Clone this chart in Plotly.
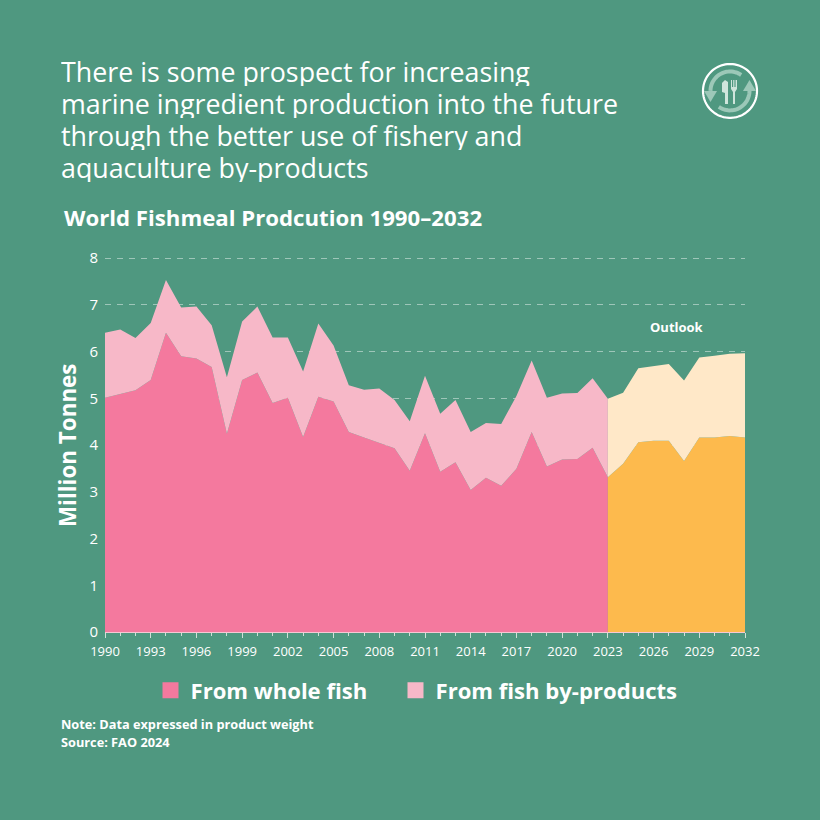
import math
import plotly.graph_objects as go

BG = "#4F9880"
PINK = "#F4799E"
PINK_LIGHT = "#F7B8C8"
ORANGE = "#FDBA4D"
CREAM = "#FFE8C8"
FONT = "Open Sans"

years_hist = list(range(1990, 2024))
whole_hist = [5.01, 5.09, 5.17, 5.39, 6.40, 5.90, 5.85, 5.67, 4.24, 5.39, 5.55, 4.90, 5.01, 4.17, 5.03, 4.93, 4.28,
              4.16, 4.04, 3.93, 3.45, 4.25, 3.43, 3.63, 3.04, 3.30, 3.13, 3.49, 4.28, 3.54, 3.69, 3.70, 3.94, 3.31]
byprod_hist = [1.39, 1.38, 1.12, 1.22, 1.13, 1.04, 1.11, 0.89, 1.21, 1.25, 1.41, 1.40, 1.29, 1.40, 1.57, 1.20, 1.00,
               1.02, 1.17, 1.03, 1.06, 1.23, 1.24, 1.33, 1.24, 1.17, 1.32, 1.56, 1.53, 1.47, 1.41, 1.41, 1.49, 1.68]
years_outlook = list(range(2023, 2033))
whole_outlook = [3.31, 3.60, 4.06, 4.09, 4.09, 3.66, 4.16, 4.16, 4.19, 4.16]
byprod_outlook = [1.68, 1.52, 1.58, 1.59, 1.64, 1.72, 1.71, 1.75, 1.76, 1.80]
tick_years = list(range(1990, 2033, 3))

L, R, T, B = 105, 745, 255.5, 632.5
def px(x): return (x - L) / (R - L)
def py(y): return (B - y) / (B - T)

fig = go.Figure()
def area(x, y, color, group, name=None):
    fig.add_trace(go.Scatter(x=x, y=y, mode="lines", stackgroup=group, line=dict(width=0, color=color),
                             fillcolor=color, name=name or "", showlegend=False, hoverinfo="x+y"))

area(years_hist, whole_hist, PINK, "hist", "From whole fish")
area(years_hist, byprod_hist, PINK_LIGHT, "hist", "From fish by-products")
area(years_outlook, whole_outlook, ORANGE, "outlook", "From whole fish (outlook)")
area(years_outlook, byprod_outlook, CREAM, "outlook", "From fish by-products (outlook)")

for nm, c, lg in (("From whole fish", PINK, "legend"), ("From fish by-products", PINK_LIGHT, "legend2")):
    fig.add_trace(go.Scatter(x=[None], y=[None], mode="markers", name=nm, legend=lg,
                             marker=dict(symbol="square", size=17, color=c)))

anns = []
def text(x, y, s, size, bold=False, anchor="left", color="white", **kw):
    anns.append(dict(xref="paper", yref="paper", x=px(x), y=py(y), text=f"<b>{s}</b>" if bold else s,
                     showarrow=False, xanchor=anchor, yanchor="middle",
                     font=dict(family=FONT, size=size, color=color), **kw))

for i, line in enumerate(["There is some prospect for increasing", "marine ingredient production into the future",
                          "through the better use of fishery and", "aquaculture by-products"]):
    text(59, 70 + i * 32.2, line, 26.8, height=30)
text(62, 217, "World Fishmeal Prodcution 1990–2032", 22.2, True)
text(59, 724.5, "Note: Data expressed in product weight", 12.75, True)
text(59, 743, "Source: FAO 2024", 12.75, True)
text(677, 327, "Outlook", 13, True, "center")
anns.append(dict(xref="paper", yref="paper", x=px(68), y=py(446), text="<b>Million Tonnes</b>", textangle=-90,
                 showarrow=False, xanchor="center", yanchor="middle",
                 font=dict(family=FONT, size=22.4, color="white")))

# Icon
shapes = []
CX, CY, RAD = 730, 90, 27
def pth(points, close=False):
    return "M " + " L ".join(f"{px(a):.5f},{py(b):.5f}" for a, b in points) + (" Z" if close else "")
def arc(r, a0, a1, n=30):
    return [(CX + r * math.cos(math.radians(a0 + (a1 - a0) * i / n)),
             CY - r * math.sin(math.radians(a0 + (a1 - a0) * i / n))) for i in range(n + 1)]
ARROW = "#9CC8B8"
LIGHT = "#CFE5DC"
shapes.append(dict(type="path", xref="paper", yref="paper", path=pth(arc(RAD, 0, 360, 90), True),
                   line=dict(color="white", width=2.2), fillcolor="rgba(0,0,0,0)"))
shapes.append(dict(type="path", xref="paper", yref="paper", path=pth(arc(19.5, 55, 180)),
                   line=dict(color=ARROW, width=4), fillcolor="rgba(0,0,0,0)"))
shapes.append(dict(type="path", xref="paper", yref="paper", path=pth(arc(19.5, 235, 360)),
                   line=dict(color=ARROW, width=4), fillcolor="rgba(0,0,0,0)"))
for tri in ([(CX - 26, CY), (CX - 13, CY), (CX - 19.5, CY + 11)],
            [(CX + 26, CY), (CX + 13, CY), (CX + 19.5, CY - 11)]):
    shapes.append(dict(type="path", xref="paper", yref="paper", path=pth(tri, True),
                       line=dict(width=0), fillcolor=ARROW))
# knife
shapes.append(dict(type="path", xref="paper", yref="paper",
                   path=pth([(CX - 5, CY - 11), (CX - 2, CY - 9), (CX - 2, CY + 13), (CX - 5, CY + 13), (CX - 5, CY + 2),
                             (CX - 8, CY + 1), (CX - 8, CY - 8)], True), line=dict(width=0), fillcolor=LIGHT))
# fork
shapes.append(dict(type="path", xref="paper", yref="paper",
                   path=pth([(CX + 1, CY - 11), (CX + 2, CY - 11), (CX + 2, CY - 4), (CX + 3.2, CY - 4), (CX + 3.2, CY - 11),
                             (CX + 4.4, CY - 11), (CX + 4.4, CY - 4), (CX + 5.6, CY - 4), (CX + 5.6, CY - 11), (CX + 7, CY - 11),
                             (CX + 7, CY - 2), (CX + 5, CY + 1), (CX + 5, CY + 13), (CX + 3, CY + 13), (CX + 3, CY + 1),
                             (CX + 1, CY - 2)], True), line=dict(width=0), fillcolor=LIGHT))

def legend_at(x):
    return dict(orientation="h", x=px(x), y=py(691), xanchor="left", yanchor="middle",
                font=dict(family=FONT, size=22.1, color="white", weight="bold"),
                bgcolor="rgba(0,0,0,0)", itemsizing="trace", itemclick=False, itemdoubleclick=False)

fig.update_layout(
    width=820, height=820, paper_bgcolor=BG, plot_bgcolor=BG,
    margin=dict(l=L, r=820 - R, t=T, b=820 - B, autoexpand=False),
    font=dict(family=FONT, color="white"),
    annotations=anns, shapes=shapes,
    legend=legend_at(150.5), legend2=legend_at(395.5),
    xaxis=dict(range=[1990, 2032], tickmode="array", tickvals=tick_years, ticks="outside", ticklen=5, tickwidth=1,
               tickcolor="#CFE0D8", minor=dict(dtick=1, ticks="outside", ticklen=3, tickcolor="#CFE0D8", tickwidth=1),
               showgrid=False, showline=True, linecolor="#F7C8D4", linewidth=1, zeroline=False, ticklabelstandoff=2,
               tickfont=dict(family=FONT, size=13, color="white"), fixedrange=True),
    yaxis=dict(range=[0, 8.0427], tickmode="array", tickvals=[0, 1, 2, 3, 4, 5, 6, 7, 8], showgrid=True,
               gridcolor="rgba(255,255,255,0.45)", griddash="6px,6px", gridwidth=1, ticklabelstandoff=6,
               zeroline=False, showline=False, ticks="", tickfont=dict(family=FONT, size=15, color="white"),
               fixedrange=True),
)
fig.write_html("out.html", config=dict(displayModeBar=False),
               post_script="document.body.style.margin='0';document.documentElement.style.background='%s';" % BG)
